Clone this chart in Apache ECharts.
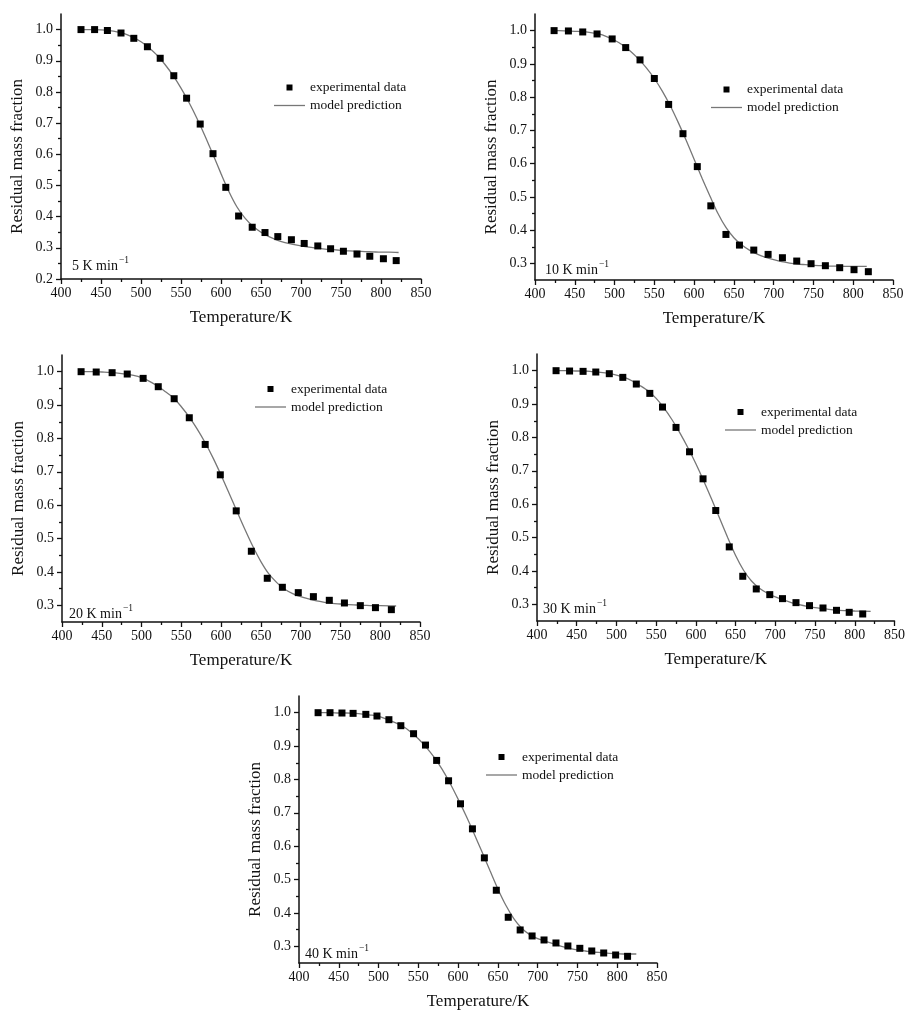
<!DOCTYPE html>
<html>
<head>
<meta charset="utf-8">
<title>Residual mass fraction vs temperature</title>
<script src="https://cdn.jsdelivr.net/npm/echarts@6.0.0/dist/echarts.min.js"></script>
<style>
  html, body { margin: 0; padding: 0; background: #fff; }
  #chart { width: 908px; height: 1012px; }
</style>
</head>
<body>
<div id="chart"></div>
<script>
// heating rates, one panel each
const rates = ['5', '10', '20', '30', '40']

// experimental points (temperature / K, residual mass fraction)
const expT5 = [425, 442, 458, 475, 491, 508, 524, 541, 557, 574, 590, 606, 622, 639, 655, 671, 688, 704, 721, 737, 753, 770, 786, 803, 819]
const expW5 = [1.000, 1.000, 0.997, 0.989, 0.972, 0.945, 0.908, 0.852, 0.780, 0.697, 0.602, 0.494, 0.402, 0.366, 0.349, 0.336, 0.326, 0.314, 0.306, 0.297, 0.289, 0.280, 0.273, 0.265, 0.259]
const expT10 = [424, 442, 460, 478, 497, 514, 532, 550, 568, 586, 604, 621, 640, 657, 675, 693, 711, 729, 747, 765, 783, 801, 819]
const expW10 = [1.000, 0.999, 0.996, 0.990, 0.975, 0.949, 0.912, 0.856, 0.778, 0.690, 0.591, 0.473, 0.387, 0.355, 0.340, 0.327, 0.317, 0.307, 0.299, 0.293, 0.287, 0.281, 0.275]
const expT20 = [424, 443, 463, 482, 502, 521, 541, 560, 580, 599, 619, 638, 658, 677, 697, 716, 736, 755, 775, 794, 814]
const expW20 = [1.000, 0.999, 0.997, 0.993, 0.980, 0.955, 0.919, 0.862, 0.782, 0.691, 0.583, 0.462, 0.381, 0.354, 0.338, 0.326, 0.315, 0.307, 0.299, 0.293, 0.287]
const expT30 = [424, 441, 458, 474, 491, 508, 525, 542, 558, 575, 592, 609, 625, 642, 659, 676, 693, 709, 726, 743, 760, 777, 793, 810]
const expW30 = [1.000, 0.999, 0.998, 0.996, 0.991, 0.980, 0.960, 0.932, 0.891, 0.830, 0.757, 0.676, 0.581, 0.472, 0.384, 0.346, 0.329, 0.317, 0.305, 0.296, 0.289, 0.282, 0.276, 0.271]
const expT40 = [424, 439, 454, 468, 484, 498, 513, 528, 544, 559, 573, 588, 603, 618, 633, 648, 663, 678, 693, 708, 723, 738, 753, 768, 783, 798, 813]
const expW40 = [1.000, 1.000, 0.999, 0.998, 0.995, 0.990, 0.979, 0.961, 0.937, 0.903, 0.857, 0.796, 0.727, 0.652, 0.565, 0.468, 0.387, 0.349, 0.331, 0.319, 0.310, 0.301, 0.294, 0.286, 0.280, 0.274, 0.270]

// model prediction curves, every 10 K
const modT5 = [425, 430, 440, 450, 460, 470, 480, 490, 500, 510, 520, 530, 540, 550, 560, 570, 580, 590, 600, 610, 620, 630, 640, 650, 660, 670, 680, 690, 700, 710, 720, 730, 740, 750, 760, 770, 780, 790, 800, 810, 822]
const modW5 = [1.000, 1.000, 1.000, 0.999, 0.997, 0.993, 0.986, 0.975, 0.961, 0.942, 0.918, 0.888, 0.853, 0.812, 0.766, 0.715, 0.659, 0.599, 0.538, 0.480, 0.431, 0.395, 0.369, 0.350, 0.336, 0.325, 0.317, 0.311, 0.306, 0.302, 0.299, 0.296, 0.294, 0.292, 0.290, 0.289, 0.288, 0.287, 0.286, 0.286, 0.285]
const modT10 = [424, 430, 440, 450, 460, 470, 480, 490, 500, 510, 520, 530, 540, 550, 560, 570, 580, 590, 600, 610, 620, 630, 640, 650, 660, 670, 680, 690, 700, 710, 720, 730, 740, 750, 760, 770, 780, 790, 800, 817]
const modW10 = [1.000, 1.000, 0.999, 0.998, 0.997, 0.994, 0.990, 0.982, 0.971, 0.957, 0.938, 0.915, 0.888, 0.856, 0.818, 0.774, 0.724, 0.670, 0.613, 0.556, 0.502, 0.450, 0.408, 0.377, 0.355, 0.339, 0.327, 0.318, 0.311, 0.305, 0.301, 0.298, 0.296, 0.294, 0.293, 0.292, 0.292, 0.291, 0.291, 0.291]
const modT20 = [424, 430, 440, 450, 460, 470, 480, 490, 500, 510, 520, 530, 540, 550, 560, 570, 580, 590, 600, 610, 620, 630, 640, 650, 660, 670, 680, 690, 700, 710, 720, 730, 740, 750, 760, 770, 780, 790, 800, 820]
const modW20 = [1.000, 1.000, 1.000, 0.999, 0.998, 0.996, 0.993, 0.989, 0.982, 0.971, 0.957, 0.940, 0.922, 0.895, 0.864, 0.828, 0.787, 0.741, 0.690, 0.636, 0.581, 0.527, 0.476, 0.431, 0.394, 0.368, 0.348, 0.335, 0.326, 0.319, 0.313, 0.309, 0.306, 0.304, 0.302, 0.301, 0.300, 0.299, 0.299, 0.298]
const modT30 = [424, 430, 440, 450, 460, 470, 480, 490, 500, 510, 520, 530, 540, 550, 560, 570, 580, 590, 600, 610, 620, 630, 640, 650, 660, 670, 680, 690, 700, 710, 720, 730, 740, 750, 760, 770, 780, 790, 800, 820]
const modW30 = [1.000, 1.000, 1.000, 0.999, 0.999, 0.997, 0.995, 0.992, 0.987, 0.980, 0.969, 0.955, 0.939, 0.917, 0.888, 0.853, 0.813, 0.769, 0.721, 0.669, 0.614, 0.557, 0.500, 0.446, 0.402, 0.370, 0.348, 0.333, 0.322, 0.313, 0.305, 0.299, 0.294, 0.290, 0.287, 0.284, 0.282, 0.281, 0.280, 0.279]
const modT40 = [424, 430, 440, 450, 460, 470, 480, 490, 500, 510, 520, 530, 540, 550, 560, 570, 580, 590, 600, 610, 620, 630, 640, 650, 660, 670, 680, 690, 700, 710, 720, 730, 740, 750, 760, 770, 780, 790, 800, 810, 824]
const modW40 = [1.000, 1.000, 1.000, 0.999, 0.999, 0.998, 0.996, 0.993, 0.989, 0.981, 0.971, 0.960, 0.943, 0.922, 0.896, 0.866, 0.830, 0.788, 0.741, 0.691, 0.638, 0.583, 0.527, 0.472, 0.423, 0.383, 0.354, 0.335, 0.323, 0.315, 0.307, 0.300, 0.294, 0.289, 0.286, 0.283, 0.281, 0.279, 0.278, 0.277, 0.277]

// axis ticks
const yTicks5 = [0.2, 0.3, 0.4, 0.5, 0.6, 0.7, 0.8, 0.9, 1.0]
const yTicks = [0.3, 0.4, 0.5, 0.6, 0.7, 0.8, 0.9, 1.0]
const yMinor5 = [0.25, 0.35, 0.45, 0.55, 0.65, 0.75, 0.85, 0.95]
const yMinor = [0.35, 0.45, 0.55, 0.65, 0.75, 0.85, 0.95]

const exps = [[expT5, expW5], [expT10, expW10], [expT20, expW20], [expT30, expW30], [expT40, expW40]]
const mods = [[modT5, modW5], [modT10, modW10], [modT20, modW20], [modT30, modW30], [modT40, modW40]]

const FONT = 'Liberation Serif'
const INK = '#111'

// panel placement
const layout = [
  { left: 61, top: 14, width: 360, height: 265, yMin: 0.2, ticks: yTicks5, minor: yMinor5, legend: [269, 75.5], note: [72, 255] },
  { left: 535, top: 14, width: 358, height: 266, yMin: 0.25, ticks: yTicks, minor: yMinor, legend: [706, 77.5], note: [545, 259] },
  { left: 62, top: 355, width: 358, height: 267, yMin: 0.25, ticks: yTicks, minor: yMinor, legend: [250, 377], note: [69, 603] },
  { left: 537, top: 354, width: 358, height: 267, yMin: 0.25, ticks: yTicks, minor: yMinor, legend: [720, 400], note: [543, 598] },
  { left: 299, top: 696, width: 358, height: 267, yMin: 0.25, ticks: yTicks, minor: yMinor, legend: [481, 745], note: [305, 943] }
]

const zip = (xs, ys) => xs.map((x, i) => [x, ys[i]])

const grid = []
const xAxis = []
const yAxis = []
const series = []
const legend = []
const graphic = []

layout.forEach((p, i) => {
  grid.push({ left: p.left, top: p.top, width: p.width, height: p.height })

  xAxis.push({
    gridIndex: i,
    type: 'value',
    min: 400,
    max: 850,
    interval: 50,
    name: 'Temperature/K',
    nameLocation: 'middle',
    nameGap: 30,
    nameTextStyle: { fontFamily: FONT, fontSize: 17, color: INK },
    axisLine: { onZero: false, lineStyle: { color: INK, width: 1.5 } },
    axisTick: { length: 5, lineStyle: { color: INK, width: 1.3 } },
    minorTick: { show: true, splitNumber: 2, length: 3, lineStyle: { color: INK, width: 1.3 } },
    axisLabel: { margin: 7, fontFamily: FONT, fontSize: 14, color: INK },
    splitLine: { show: false },
    minorSplitLine: { show: false }
  })

  yAxis.push({
    gridIndex: i,
    type: 'value',
    position: 'left',
    min: p.yMin,
    max: 1.05,
    interval: 0.05,
    name: 'Residual mass fraction',
    nameLocation: 'middle',
    nameGap: 35,
    nameTextStyle: { fontFamily: FONT, fontSize: 17, color: INK, padding: [0, 20, 0, 0] },
    axisLine: { show: true, onZero: false, lineStyle: { color: INK, width: 1.5 } },
    axisTick: { show: true, length: 5, customValues: p.ticks, lineStyle: { color: INK, width: 1.3 } },
    axisLabel: {
      customValues: p.ticks,
      margin: 8,
      fontFamily: FONT,
      fontSize: 14,
      color: INK,
      formatter: (v) => v.toFixed(1)
    },
    splitLine: { show: false }
  })
  // minor ticks of y
  yAxis.push({
    gridIndex: i,
    type: 'value',
    position: 'left',
    min: p.yMin,
    max: 1.05,
    interval: 0.05,
    axisLine: { show: false },
    axisTick: { show: true, length: 3, customValues: p.minor, lineStyle: { color: INK, width: 1.3 } },
    axisLabel: { show: false },
    splitLine: { show: false }
  })

  series.push({
    name: 'model prediction',
    type: 'line',
    xAxisIndex: i,
    yAxisIndex: i * 2,
    symbol: 'none',
    smooth: 0.3,
    lineStyle: { color: '#777', width: 1.3 },
    itemStyle: { color: '#777' },
    z: 1,
    data: zip(mods[i][0], mods[i][1])
  })
  series.push({
    name: 'experimental data',
    type: 'scatter',
    xAxisIndex: i,
    yAxisIndex: i * 2,
    symbol: 'rect',
    symbolSize: 7,
    itemStyle: { color: '#000', opacity: 1 },
    z: 3,
    data: zip(exps[i][0], exps[i][1])
  })

  legend.push({
    left: p.legend[0],
    top: p.legend[1],
    orient: 'vertical',
    itemWidth: 31,
    itemHeight: 6,
    itemGap: 4,
    selectedMode: false,
    textStyle: { fontFamily: FONT, fontSize: 13.5, color: INK, lineHeight: 13.5 },
    data: [
      { name: 'experimental data', icon: 'path://M0,0H10V10H0Z', itemStyle: { color: '#000', opacity: 1 } },
      { name: 'model prediction', icon: 'path://M0,0H31V1.3H0Z', itemStyle: { color: '#777' } }
    ]
  })

  graphic.push({
    type: 'text',
    left: p.note[0],
    top: p.note[1],
    style: {
      text: '{a|' + rates[i] + ' K min}{b|\u22121}',
      rich: {
        a: { fontFamily: FONT, fontSize: 14, fill: INK, verticalAlign: 'bottom', lineHeight: 18 },
        b: { fontFamily: FONT, fontSize: 9.5, fill: INK, verticalAlign: 'top', lineHeight: 18, padding: [0, 0, 0, 1] }
      }
    }
  })
})

const chart = echarts.init(document.getElementById('chart'))
chart.setOption({
  animation: false,
  backgroundColor: '#fff',
  grid,
  xAxis,
  yAxis,
  legend,
  graphic,
  series
})
</script>
</body>
</html>
